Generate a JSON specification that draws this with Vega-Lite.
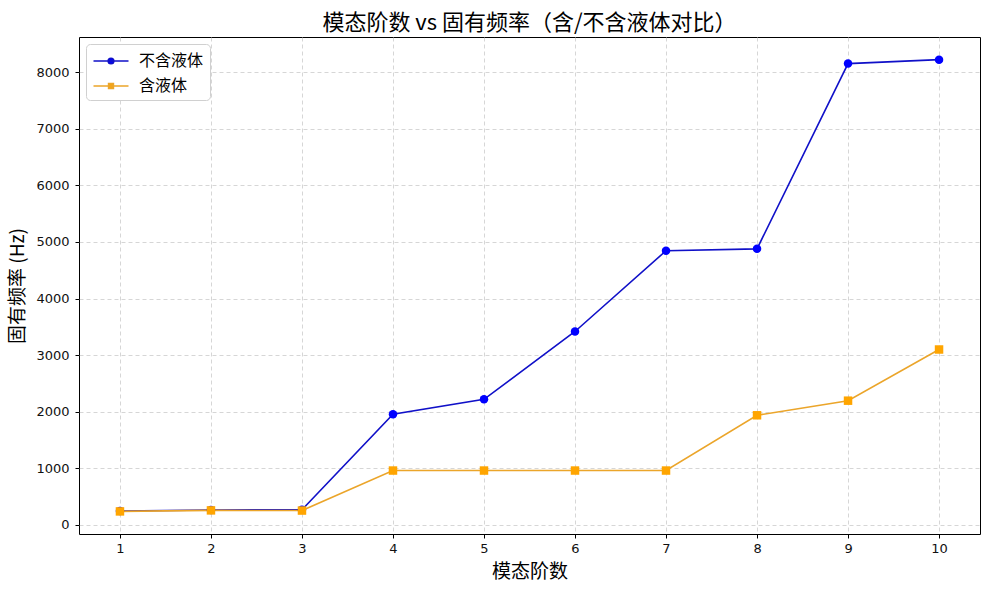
{
  "$schema": "https://vega.github.io/schema/vega-lite/v6.json",
  "width": 901,
  "height": 497,
  "autosize": {"type": "none"},
  "padding": {"left": 79, "top": 37, "right": 9, "bottom": 56},
  "background": "white",
  "title": {
    "text": "模态阶数 vs 固有频率（含/不含液体对比）",
    "font": "Noto Sans CJK SC",
    "fontSize": 22,
    "fontWeight": "normal",
    "color": "black",
    "offset": 2
  },
  "config": {
    "font": "Noto Sans CJK SC",
    "view": {"stroke": "black", "strokeWidth": 1},
    "legend": {
      "title": null,
      "orient": "top-left",
      "offset": 7,
      "padding": 6,
      "fillColor": "white",
      "strokeColor": "#d0d0d0",
      "cornerRadius": 4,
      "labelFontSize": 16,
      "labelColor": "black",
      "symbolSize": 400,
      "symbolStrokeWidth": 1.6,
      "symbolOffset": 8,
      "rowPadding": 6,
      "labelOffset": 17
    }
  },
  "data": {
    "values": [
      {"mode": 1, "series": "不含液体", "freq": 247},
      {"mode": 2, "series": "不含液体", "freq": 266},
      {"mode": 3, "series": "不含液体", "freq": 270},
      {"mode": 4, "series": "不含液体", "freq": 1958},
      {"mode": 5, "series": "不含液体", "freq": 2220},
      {"mode": 6, "series": "不含液体", "freq": 3418},
      {"mode": 7, "series": "不含液体", "freq": 4845},
      {"mode": 8, "series": "不含液体", "freq": 4878},
      {"mode": 9, "series": "不含液体", "freq": 8150},
      {"mode": 10, "series": "不含液体", "freq": 8220},
      {"mode": 1, "series": "含液体", "freq": 240},
      {"mode": 2, "series": "含液体", "freq": 258},
      {"mode": 3, "series": "含液体", "freq": 255},
      {"mode": 4, "series": "含液体", "freq": 962},
      {"mode": 5, "series": "含液体", "freq": 962},
      {"mode": 6, "series": "含液体", "freq": 962},
      {"mode": 7, "series": "含液体", "freq": 962},
      {"mode": 8, "series": "含液体", "freq": 1938},
      {"mode": 9, "series": "含液体", "freq": 2196},
      {"mode": 10, "series": "含液体", "freq": 3100}
    ]
  },
  "encoding": {
    "x": {
      "field": "mode",
      "type": "quantitative",
      "title": "模态阶数",
      "scale": {"domain": [0.55, 10.45], "nice": false, "zero": false},
      "axis": {
        "values": [1, 2, 3, 4, 5, 6, 7, 8, 9, 10],
        "format": "d",
        "grid": true,
        "gridColor": "#cccccc",
        "gridDash": [4, 3],
        "gridWidth": 0.8,
        "domain": false,
        "tickColor": "black",
        "tickSize": 4,
        "labelFont": "DejaVu Sans",
        "labelFontSize": 13,
        "labelColor": "#111111",
        "labelPadding": 4,
        "titleFontSize": 19,
        "titleFontWeight": "normal",
        "titleColor": "black",
        "titlePadding": 7
      }
    },
    "y": {
      "field": "freq",
      "type": "quantitative",
      "title": "固有频率 (Hz)",
      "scale": {"domain": [-159, 8620], "nice": false, "zero": false},
      "axis": {
        "values": [0, 1000, 2000, 3000, 4000, 5000, 6000, 7000, 8000],
        "format": "d",
        "grid": true,
        "gridColor": "#cccccc",
        "gridDash": [4, 3],
        "gridWidth": 0.8,
        "domain": false,
        "tickColor": "black",
        "tickSize": 4,
        "labelFont": "DejaVu Sans",
        "labelFontSize": 13,
        "labelColor": "#111111",
        "labelPadding": 6,
        "titleFontSize": 19,
        "titleFontWeight": "normal",
        "titleColor": "black",
        "titlePadding": 8
      }
    }
  },
  "layer": [
    {
      "mark": {"type": "line", "strokeWidth": 1.6},
      "encoding": {
        "color": {
          "field": "series",
          "type": "nominal",
          "scale": {"domain": ["不含液体", "含液体"], "range": ["#1010c8", "#eba52a"]},
          "legend": null
        }
      }
    },
    {
      "mark": {"type": "point", "filled": true, "size": 72, "opacity": 1},
      "encoding": {
        "color": {
          "field": "series",
          "type": "nominal",
          "scale": {"domain": ["不含液体", "含液体"], "range": ["#0000ff", "#ffa500"]},
          "legend": null
        },
        "shape": {
          "field": "series",
          "type": "nominal",
          "scale": {"domain": ["不含液体", "含液体"], "range": ["circle", "square"]},
          "legend": null
        }
      }
    },
    {
      "transform": [{"filter": "datum.mode > 100"}],
      "mark": {"type": "point", "opacity": 1, "strokeWidth": 1.6},
      "encoding": {
        "fill": {
          "field": "series",
          "type": "nominal",
          "scale": {"domain": ["不含液体", "含液体"], "range": ["#0000ff", "#ffa500"]},
          "legend": {}
        },
        "stroke": {
          "field": "series",
          "type": "nominal",
          "scale": {"domain": ["不含液体", "含液体"], "range": ["#1010c8", "#eba52a"]},
          "legend": {}
        },
        "shape": {
          "field": "series",
          "type": "nominal",
          "scale": {
            "domain": ["不含液体", "含液体"],
            "range": [
              "M-1.75,0H1.75M0.28,0A0.28,0.28,0,1,1,-0.28,0A0.28,0.28,0,1,1,0.28,0Z",
              "M-1.75,0H1.75M-0.24,-0.24H0.24V0.24H-0.24Z"
            ]
          },
          "legend": {}
        }
      }
    }
  ],
  "resolve": {"scale": {"color": "independent", "shape": "independent", "fill": "independent", "stroke": "independent"}}
}
